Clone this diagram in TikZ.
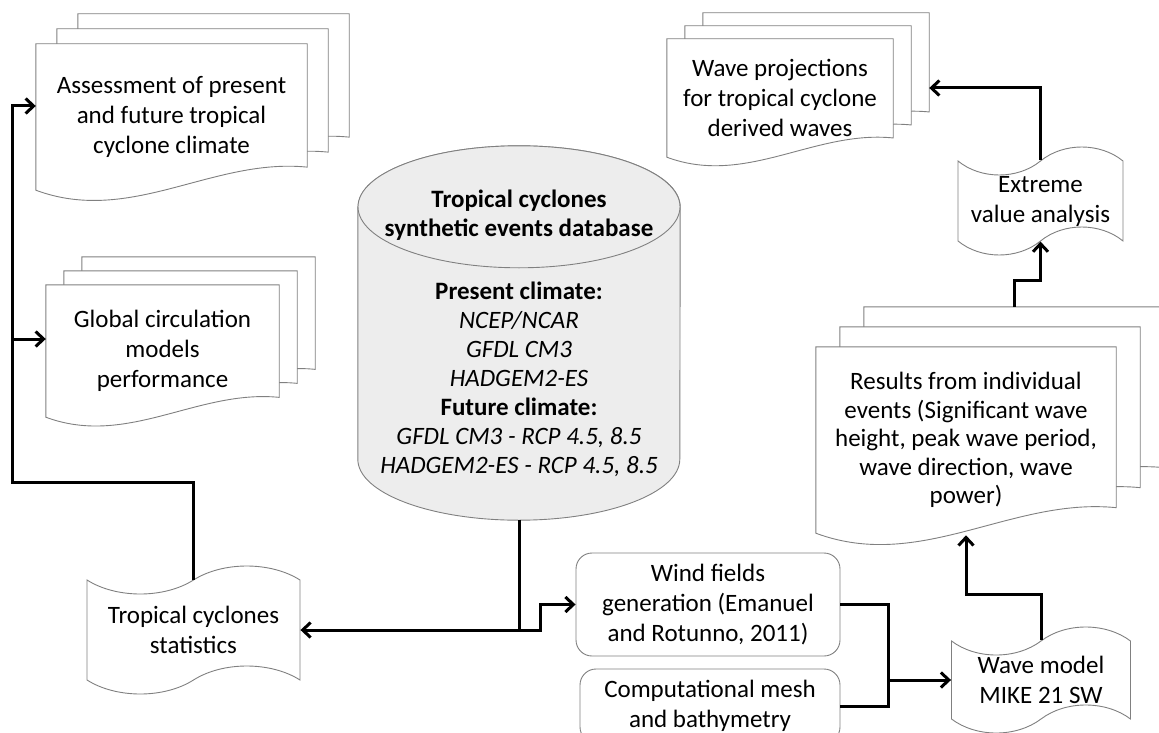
\documentclass[tikz,border=0pt]{standalone}
\usepackage{fontspec}
\setmainfont{Carlito}
\usetikzlibrary{calc,shapes.symbols,arrows.meta}
\pgfdeclarelayer{back}
\pgfsetlayers{back,main}
% one sheet of a document stack, moved by #2,#3
\newcommand{\docpage}[3]{
	\filldraw[page] let \p1=(#1.south west), \p2=(#1.north east), \n1={\x2-\x1} in
		({\x1+#2},{\y1+#3}) -- ({\x1+#2},{\y2+#3}) -- ({\x2+#2},{\y2+#3})
		-- ({\x2+#2},{\y1+#3+0.085*\n1})
		.. controls ({\x1+#2+0.65*\n1},{\y1+#3+0.12*\n1}) and ({\x1+#2+0.35*\n1},{\y1+#3-0.13*\n1})
		.. ({\x1+#2},{\y1+#3}) -- cycle;
}
\newcommand{\docstack}[3]{
	\begin{pgfonlayer}{back}
	\docpage{#1}{2*#2}{2*#3}
	\docpage{#1}{#2}{#3}
	\docpage{#1}{0pt}{0pt}
	\end{pgfonlayer}
	\path let \p1=(#1.south west), \p2=(#1.north east), \n1={\x2-\x1} in
		coordinate (#1-b) at ({\x1+0.5*\n1},{\y1-0.007*\n1});
}

\begin{document}
\begin{tikzpicture}[x=1pt,y=1pt,
	page/.style={draw=black!50, line width=0.9pt, fill=white},
	doc/.style={inner sep=0pt, align=center, font=\fontsize{25}{30}\selectfont},
	tapebox/.style={shape=tape, tape bend height=28pt, draw=black!50, line width=0.9pt, fill=white,
		inner sep=0pt, align=center, font=\fontsize{25}{30}\selectfont},
	box/.style={draw=black!50, line width=0.9pt, rounded corners=16pt, fill=white,
		inner sep=0pt, align=center, font=\fontsize{25}{30}\selectfont},
	drum/.style={draw=black!50, line width=0.9pt, fill=black!7},
	line/.style={line width=3pt},
	flow/.style={line width=3pt, -{Straight Barb[length=8pt,width=15pt]}}]
	\useasboundingbox (0,0) rectangle (1159,-733);

	% document stacks
	\node[doc, minimum width=271pt, minimum height=146pt] (assess) at (171.5,-117)
		{Assessment of present\\and future tropical\\cyclone climate};
	\node[doc, minimum width=233pt, minimum height=132pt] (glob) at (162.5,-351)
		{Global circulation\\models\\performance};
	\node[doc, minimum width=226pt, minimum height=118pt] (proj) at (780,-98)
		{Wave projections\\for tropical cyclone\\derived waves};
	\node[doc, minimum width=300pt, minimum height=186pt, font=\fontsize{25}{28.5}\selectfont] (res) at (966,-440)
		{Results from individual\\events (Significant wave\\height, peak wave period,\\wave direction, wave\\power)};
	\docstack{assess}{21pt}{15pt}
	\docstack{glob}{18pt}{14pt}
	\docstack{proj}{18pt}{13pt}
	\docstack{res}{24pt}{20pt}

	% database
	\node[doc, minimum width=322pt, minimum height=374pt, font=\fontsize{25}{29}\selectfont] (db) at (519,-333)
		{\textbf{Tropical cyclones}\\\textbf{synthetic events database}\\[34pt]
		\textbf{Present climate:}\\\textit{NCEP/NCAR}\\\textit{GFDL CM3}\\\textit{HADGEM2-ES}\\
		\textbf{Future climate:}\\\textit{GFDL CM3 - RCP 4.5, 8.5}\\\textit{HADGEM2-ES - RCP 4.5, 8.5}};
	\begin{pgfonlayer}{back}
	\filldraw[drum] ($(db.north west)+(0,-61)$) -- ($(db.south west)+(0,61)$) arc (180:360:161 and 61)
		-- ($(db.north east)+(0,-61)$) arc (0:180:161 and 61) -- cycle;
	\draw[drum] ($(db.north)+(0,-61)$) ellipse (161 and 61);
	\end{pgfonlayer}

	% tapes and boxes
	\node[tapebox, minimum width=213pt, minimum height=128pt] (stats) at (193.5,-630) {Tropical cyclones\\statistics};
	\node[tapebox, minimum width=165pt, minimum height=108pt] (evt) at (1040.5,-201) {Extreme\\value analysis};
	\node[tapebox, minimum width=179pt, minimum height=106pt] (wavem) at (1041,-680) {Wave model\\MIKE 21 SW};
	\node[box, minimum width=264pt, minimum height=103pt] (wind) at (708,-604.5)
		{Wind fields\\generation (Emanuel\\and Rotunno, 2011)};
	\node[box, minimum width=260pt, minimum height=74pt] (comp) at (710,-706) {Computational mesh\\and bathymetry};

	% connectors
	\coordinate (bus) at (12,-482);
	\coordinate (split) at (db.south |- stats.east);
	\draw[flow] (stats.north) |- (bus) |- ([yshift=11pt]assess.west);
	\draw[flow] (bus) |- ([yshift=12pt]glob.west);
	\draw[flow] (db.south) -- (split) -- (stats.east);
	\draw[flow] (split) -- ++(21,0) |- (wind.west);
	\draw[line] (wind.east) -- ++(48,0) |- (comp.east);
	\draw[flow] (wind.east) ++(48,0) |- (wavem.west);
	\draw[flow] (wavem.north) -- ++(0,46) -| (res-b);
	\draw[flow] ([shift={(48pt,40pt)}]res.north) -- ++(0,26) -| (evt.south);
	\draw[flow] (evt.north) |- ([shift={(36pt,10pt)}]proj.east);
\end{tikzpicture}
\end{document}
